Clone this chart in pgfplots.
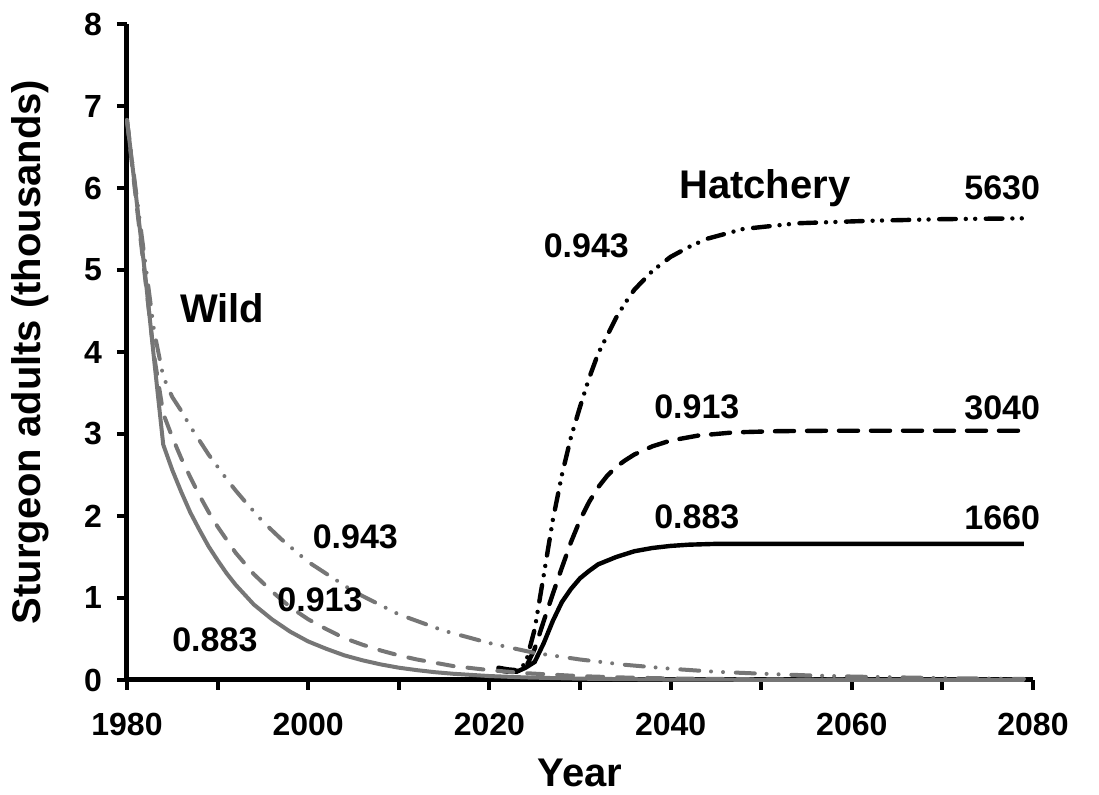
\documentclass[border=0pt]{standalone}
\usepackage{fontspec}
\setmainfont{Liberation Sans}
\usepackage{pgfplots}
\pgfplotsset{compat=1.18}
\definecolor{wildgray}{RGB}{118,118,118}
\tikzset{
  blackdd/.style={line cap=round, dash pattern=on 8.3pt off 5pt on 0pt off 4.7pt on 0pt off 5.3pt},
  graydd/.style={line cap=round, dash pattern=on 9.5pt off 5.9pt on 0pt off 6pt on 0pt off 6.4pt},
  blackdash/.style={line cap=round, dash pattern=on 9.5pt off 6.5pt},
  graydash/.style={line cap=round, dash pattern=on 8pt off 7pt},
}
\newcommand{\lblfont}{\bfseries\fontsize{17}{20}\selectfont}
\newcommand{\bigfont}{\bfseries\fontsize{20}{24}\selectfont}
\begin{document}
\begin{tikzpicture}
\begin{axis}[
  scale only axis, width=453pt, height=328pt,
  xmin=1980, xmax=2080, ymin=0, ymax=8,
  axis x line=bottom, axis y line=left,
  axis line style={-, line width=2.5pt},
  xtick={1980,2000,...,2080}, minor xtick={1990,2010,...,2070},
  ytick={0,1,...,8},
  tick align=outside, major tick length=5pt, minor tick length=5pt,
  every tick/.style={line width=2pt, black},
  /pgf/number format/assume math mode=true,
  /pgf/number format/set thousands separator={},
  tick label style={font=\bfseries\fontsize{16}{19}\selectfont},
  xticklabel style={yshift=-8pt},
  yticklabel style={xshift=-4pt},
  xlabel={Year}, ylabel={Sturgeon adults (thousands)},
  xlabel style={font=\bigfont, at={(axis description cs:0.5,-0.142)}, anchor=center},
  ylabel style={font=\bigfont, at={(axis description cs:-0.107,0.5)}, anchor=center},
  clip=false,
]
% hatchery 0.883
\addplot[black, line width=2.2pt] coordinates {
(2021,0.12) (2022,0.10) (2023,0.10) (2024,0.15) (2025,0.22) (2026,0.45) (2027,0.72)
(2028,0.95) (2029,1.11) (2030,1.24) (2031,1.33) (2032,1.41) (2034,1.50) (2036,1.57)
(2038,1.61) (2040,1.635) (2042,1.65) (2045,1.66) (2079,1.66)
};
% hatchery 0.913
\addplot[black, line width=2.2pt, blackdash] coordinates {
(2021,0.13) (2022,0.12) (2023,0.11) (2024,0.15) (2025,0.38) (2026,0.72) (2027,1.05)
(2028,1.37) (2029,1.68) (2030,1.95) (2031,2.17) (2032,2.35) (2033,2.49) (2034,2.60)
(2035,2.68) (2036,2.75) (2037,2.80) (2038,2.85) (2040,2.92) (2043,2.98) (2047,3.02)
(2052,3.035) (2058,3.04) (2079,3.04)
};
% hatchery 0.943
\addplot[black, line width=2.2pt, blackdd] coordinates {
(2021,0.15) (2022,0.13) (2023,0.12) (2024,0.20) (2025,0.62) (2026,1.28) (2027,1.95)
(2028,2.50) (2029,2.96) (2030,3.33) (2031,3.68) (2032,3.98) (2033,4.20) (2034,4.42)
(2035,4.60) (2036,4.76) (2038,4.99) (2040,5.16) (2042,5.28) (2044,5.38) (2048,5.50)
(2054,5.57) (2062,5.60) (2070,5.62) (2079,5.63)
};
% wild 0.883
\addplot[wildgray, line width=2pt] coordinates {
(1980,6.83) (1981,5.90) (1982,4.95) (1983,3.90) (1984,2.87) (1985,2.56) (1986,2.29)
(1987,2.04) (1988,1.83) (1989,1.63) (1990,1.46) (1991,1.30) (1992,1.16) (1993,1.04)
(1994,0.92) (1996,0.74) (1998,0.59) (2000,0.47) (2002,0.38) (2004,0.30) (2006,0.24)
(2008,0.19) (2010,0.15) (2012,0.12) (2014,0.095) (2016,0.076) (2020,0.048) (2024,0.031)
(2030,0.016) (2040,0.005) (2050,0.002) (2079,0)
};
% wild 0.913
\addplot[wildgray, line width=2pt, graydash] coordinates {
(1980,6.83) (1981,5.85) (1982,4.90) (1983,3.95) (1984,3.25) (1985,2.96) (1986,2.70)
(1987,2.47) (1988,2.25) (1989,2.05) (1990,1.87) (1991,1.71) (1992,1.55) (1994,1.29)
(1996,1.08) (1998,0.89) (2000,0.74) (2002,0.62) (2004,0.51) (2006,0.43) (2008,0.36)
(2010,0.30) (2012,0.25) (2014,0.21) (2016,0.17) (2020,0.12) (2024,0.083) (2030,0.047)
(2035,0.030) (2040,0.019) (2050,0.0075) (2060,0.003) (2079,0)
};
% wild 0.943
\addplot[wildgray, line width=2pt, graydd] coordinates {
(1980,6.83) (1981,5.95) (1982,5.10) (1983,4.25) (1984,3.70) (1985,3.45) (1986,3.28)
(1987,3.09) (1988,2.92) (1989,2.75) (1990,2.60) (1991,2.45) (1992,2.31) (1993,2.18)
(1995,1.93) (1997,1.72) (2000,1.44) (2005,1.08) (2010,0.80) (2015,0.60) (2020,0.45)
(2025,0.33) (2030,0.25) (2035,0.185) (2040,0.137) (2045,0.10) (2050,0.077) (2055,0.057)
(2060,0.042) (2065,0.032) (2070,0.023) (2079,0.013)
};
\node[font=\bigfont] at (axis cs:1990.5,4.54) {Wild};
\node[font=\bigfont] at (axis cs:2050.4,6.0) {Hatchery};
\node[font=\lblfont] at (axis cs:2005.2,1.74) {0.943};
\node[font=\lblfont] at (axis cs:2001.3,0.98) {0.913};
\node[font=\lblfont] at (axis cs:1989.7,0.49) {0.883};
\node[font=\lblfont] at (axis cs:2030.7,5.30) {0.943};
\node[font=\lblfont] at (axis cs:2042.9,3.33) {0.913};
\node[font=\lblfont] at (axis cs:2042.9,1.99) {0.883};
\node[font=\lblfont] at (axis cs:2076.6,6.0) {5630};
\node[font=\lblfont] at (axis cs:2076.6,3.32) {3040};
\node[font=\lblfont] at (axis cs:2076.6,1.98) {1660};
\end{axis}
\path[use as bounding box] (-63.5pt,-57.5pt) rectangle (486pt,340pt);
\end{tikzpicture}
\end{document}
